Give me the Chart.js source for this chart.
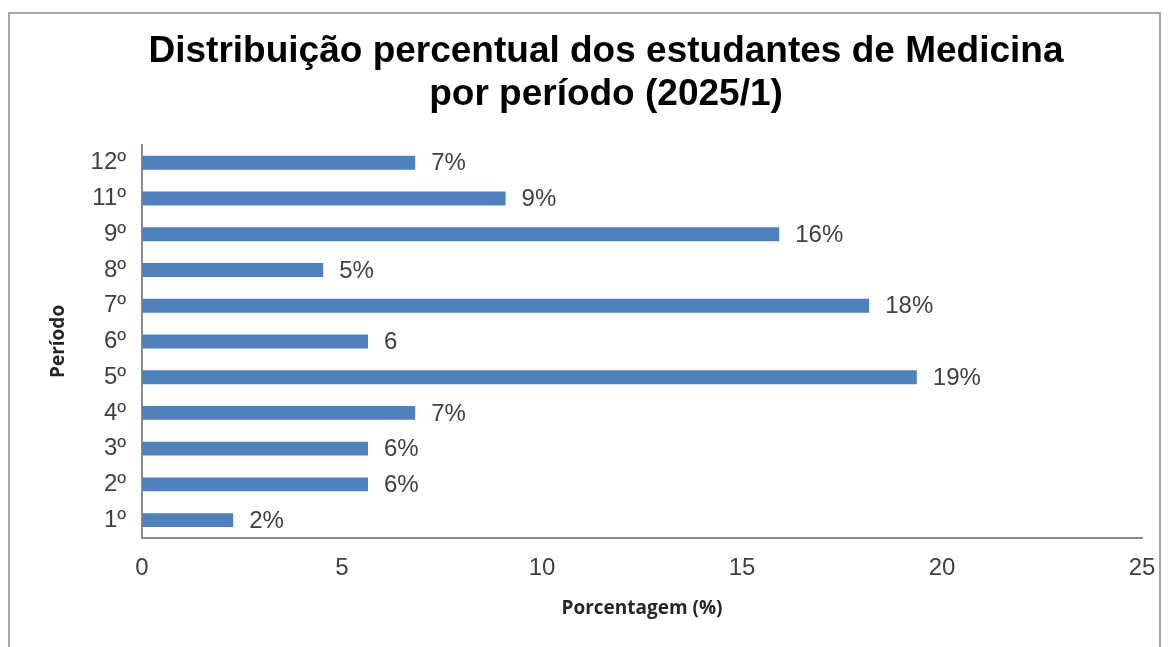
<!DOCTYPE html>
<html>
<head>
<meta charset="utf-8">
<script src="https://cdn.jsdelivr.net/npm/chart.js@4/dist/chart.umd.min.js"></script>
<style>
  html, body { margin: 0; padding: 0; background: #fff; overflow: hidden; }
  #frame {
    position: absolute; left: 8px; top: 12px; width: 1153px; height: 660px;
    border: 2px solid #a6a6a6; box-sizing: border-box;
  }
  canvas { position: absolute; left: 0; top: 0; }
</style>
</head>
<body>
<div id="frame"></div>
<canvas id="chart" width="1176" height="647"></canvas>
<script>
// períodos, de cima para baixo
const periodos = ["12º", "11º", "9º", "8º", "7º", "6º", "5º", "4º", "3º", "2º", "1º"];
const porcentagens = [6.83, 9.09, 15.93, 4.53, 18.18, 5.65, 19.37, 6.83, 5.65, 5.65, 2.28];
const rotulos = ["7%", "9%", "16%", "5%", "18%", "6", "19%", "7%", "6%", "6%", "2%"];
const ticksX = [0, 5, 10, 15, 20, 25];

const fonte = "'Liberation Sans', Arial, sans-serif";

// rótulos de dados ao lado das barras
const rotulosPlugin = {
  id: "rotulos",
  afterDatasetsDraw(chart) {
    const ctx = chart.ctx;
    const meta = chart.getDatasetMeta(0);
    ctx.save();
    ctx.font = "24px " + fonte;
    ctx.fillStyle = "#404040";
    ctx.textAlign = "left";
    ctx.textBaseline = "middle";
    meta.data.forEach((bar, i) => {
      ctx.fillText(rotulos[i], bar.x + 16, bar.y + 1);
    });
    ctx.restore();
  },
};

const ctx = document.getElementById("chart").getContext("2d");
const chart = new Chart(ctx, {
  type: "bar",
  data: {
    labels: periodos,
    datasets: [
      {
        data: porcentagens,
        backgroundColor: "#4f81bd",
        borderWidth: 0,
        barPercentage: 0.39,
        categoryPercentage: 1,
      },
    ],
  },
  options: {
    indexAxis: "y",
    responsive: false,
    animation: false,
    layout: { padding: { left: 70, right: 34, top: 0, bottom: 0 } },
    plugins: {
      legend: { display: false },
      tooltip: { enabled: false },
      title: {
        display: true,
        text: ["Distribuição percentual dos estudantes de Medicina", "por período (2025/1)"],
        color: "#000",
        font: { family: fonte, size: 37, weight: "bold", lineHeight: 1.16 },
        padding: { top: 30, bottom: 29 },
      },
    },
    scales: {
      x: {
        min: 0,
        max: 25,
        grid: { display: false, drawTicks: false },
        border: { display: true, color: "#8c8c8c", width: 2 },
        afterBuildTicks: (scale) => {
          scale.ticks = ticksX.map((v) => ({ value: v }));
        },
        afterFit: (scale) => {
          scale.height = 109;
        },
        ticks: {
          color: "#404040",
          padding: 16,
          font: { family: fonte, size: 24 },
        },
        title: {
          display: true,
          text: "Porcentagem (%)",
          color: "#262626",
          padding: { top: 0, bottom: 27 },
          font: { family: "'Open Sans', sans-serif", size: 19, weight: "bold" },
        },
      },
      y: {
        grid: { display: false, drawTicks: false },
        border: { display: true, color: "#8c8c8c", width: 2 },
        afterFit: (scale) => {
          scale.width = 72;
        },
        ticks: {
          color: "#404040",
          padding: 16,
          font: { family: fonte, size: 24 },
        },
        title: {
          display: true,
          text: "Período",
          color: "#262626",
          padding: { top: -23, bottom: 0 },
          font: { family: "'Open Sans', sans-serif", size: 19, weight: "bold" },
        },
      },
    },
  },
  plugins: [rotulosPlugin],
});
</script>
</body>
</html>
